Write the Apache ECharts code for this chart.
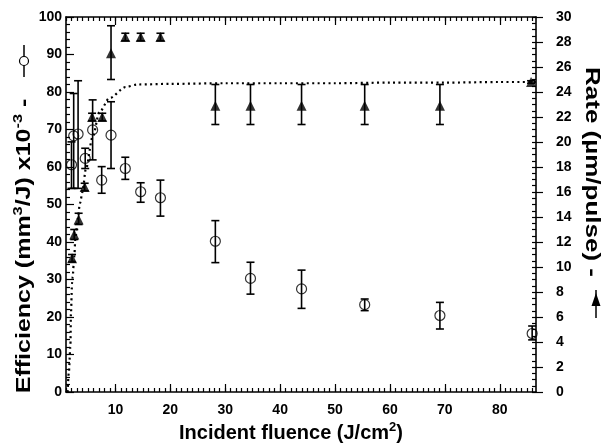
<!DOCTYPE html>
<html>
<head>
<meta charset="utf-8">
<script src="https://cdn.jsdelivr.net/npm/echarts@6/dist/echarts.min.js"></script>
<style>html,body{margin:0;padding:0;background:#fff}#c{width:602px;height:443px}</style>
</head>
<body>
<div id="c"></div>
<script>
// ---- data ----
const X_MIN = 1, X_MAX = 86.6;
const xMajorTicks = [10, 20, 30, 40, 50, 60, 70, 80];

// Efficiency (left axis, open circles)
const effX  = [2.0, 2.4, 3.2, 4.5, 5.85, 7.5, 9.2, 11.8, 14.6, 18.2, 28.2, 34.6, 43.9, 55.4, 69.1, 85.9];
const effY  = [60.6, 68.3, 68.8, 62.3, 69.9, 56.5, 68.5, 59.6, 53.4, 51.8, 40.2, 30.3, 27.5, 23.3, 20.4, 15.6];
const effLo = [54.3, 54.3, 54.3, 59.6, 61.9, 53.0, 59.6, 56.7, 50.6, 46.9, 34.5, 26.1, 22.3, 21.7, 16.8, 13.9];
const effHi = [66.7, 79.6, 83.0, 65.0, 77.9, 60.1, 77.4, 62.6, 55.8, 56.5, 45.7, 34.6, 32.5, 24.8, 23.9, 17.6];

// Rate (right axis, filled triangles)
const rateX  = [2.1, 2.5, 3.3, 4.4, 5.75, 7.6, 9.2, 11.8, 14.6, 18.2, 28.2, 34.6, 43.9, 55.4, 69.1, 85.7];
const rateY  = [10.7, 12.6, 13.8, 16.4, 22.0, 22.0, 27.1, 28.4, 28.4, 28.4, 22.9, 22.9, 22.9, 22.9, 22.9, 24.8];
const rateLo = [10.4, 12.2, 13.4, 16.1, 21.7, 21.7, 25.0, 28.1, 28.1, 28.1, 21.4, 21.4, 21.4, 21.4, 21.4, 24.7];
const rateHi = [11.0, 13.0, 14.3, 16.7, 22.3, 22.3, 29.3, 28.7, 28.7, 28.7, 24.6, 24.6, 24.6, 24.6, 24.6, 24.9];

// Dotted fit curve (right axis)
const fitX = [1.3, 1.5, 1.8, 1.9, 2.1, 2.2, 2.5, 2.7, 3.1, 3.55, 4.0, 4.6, 5.85, 7.1, 8.9, 11.9, 14, 20, 30, 40, 50, 60, 70, 80, 86.6];
const fitY = [0, 1.5, 3.6, 6.3, 8.7, 9.2, 10.8, 12.2, 13.8, 15.1, 16.0, 17.8, 20.4, 22.4, 23.5, 24.4, 24.6, 24.65, 24.7, 24.7, 24.7, 24.75, 24.75, 24.8, 24.8];

// ---- chart ----
const xMinorTicks = [];
for (let v = 1; v <= 86; v++) xMinorTicks.push(v);

const FONT = 'Liberation Sans, Arial, Helvetica, sans-serif';
const black = '#000';
const lbl = { color: black, fontFamily: FONT, fontWeight: 'bold', fontSize: 14 };

function errRender(params, api) {
  const x = api.value(0), lo = api.value(1), hi = api.value(2);
  const p1 = api.coord([x, hi]), p2 = api.coord([x, lo]);
  const w = 4;
  const st = { stroke: black, lineWidth: 1.6 };
  return { type: 'group', children: [
    { type: 'line', shape: { x1: p1[0], y1: p1[1], x2: p2[0], y2: p2[1] }, style: st },
    { type: 'line', shape: { x1: p1[0] - w, y1: p1[1], x2: p1[0] + w, y2: p1[1] }, style: st },
    { type: 'line', shape: { x1: p2[0] - w, y1: p2[1], x2: p2[0] + w, y2: p2[1] }, style: st }
  ]};
}

function xAxisDef(pos, ticks, len, showLine, showLabel) {
  return {
    type: 'value', position: pos, min: X_MIN, max: X_MAX,
    axisLine: { show: showLine, onZero: false, lineStyle: { color: black, width: 1.6 } },
    axisTick: { show: true, inside: true, length: len, customValues: ticks, lineStyle: { color: black, width: 1.2 } },
    axisLabel: Object.assign({ show: showLabel, customValues: ticks, margin: 11 }, lbl),
    splitLine: { show: false }
  };
}

const chart = echarts.init(document.getElementById('c'), null, { renderer: 'canvas' });
chart.setOption({
  animation: false,
  backgroundColor: '#fff',
  grid: { left: 66, right: 66, top: 17, bottom: 51, containLabel: false },
  xAxis: [
    xAxisDef('bottom', xMajorTicks, 8, true, true),
    xAxisDef('bottom', xMinorTicks, 4, false, false),
    xAxisDef('top', xMajorTicks, 8, true, false),
    xAxisDef('top', xMinorTicks, 4, false, false)
  ],
  yAxis: [
    {
      type: 'value', position: 'left', min: 0, max: 100, interval: 10,
      axisLine: { show: true, onZero: false, lineStyle: { color: black, width: 1.6 } },
      axisTick: { show: true, inside: true, length: 8, lineStyle: { color: black, width: 1.2 } },
      minorTick: { show: true, splitNumber: 5, length: 4, lineStyle: { color: black, width: 1.2 } },
      axisLabel: Object.assign({ margin: 4 }, lbl),
      splitLine: { show: false }
    },
    {
      type: 'value', position: 'right', min: 0, max: 30, interval: 2,
      axisLine: { show: true, onZero: false, lineStyle: { color: black, width: 1.6 } },
      axisTick: { show: true, inside: false, length: 7, lineStyle: { color: black, width: 1.2 } },
      axisLabel: Object.assign({ margin: 20 }, lbl),
      splitLine: { show: false }
    },
    {
      type: 'value', position: 'right', min: 0, max: 30, interval: 0.5,
      axisLine: { show: false },
      axisTick: { show: true, inside: true, length: 4, lineStyle: { color: black, width: 1.2 } },
      axisLabel: { show: false },
      splitLine: { show: false }
    }
  ],
  series: [
    {
      type: 'line', xAxisIndex: 0, yAxisIndex: 1, showSymbol: false, smooth: 0.3, smoothMonotone: 'x',
      data: fitX.map((x, i) => [x, fitY[i]]),
      lineStyle: { color: black, width: 2.2, type: [2, 3.4] }, z: 1
    },
    {
      type: 'custom', xAxisIndex: 0, yAxisIndex: 0, renderItem: errRender,
      encode: { x: 0, y: [1, 2] },
      data: effX.map((x, i) => [x, effLo[i], effHi[i]]), z: 2
    },
    {
      type: 'custom', xAxisIndex: 0, yAxisIndex: 1, renderItem: errRender,
      encode: { x: 0, y: [1, 2] },
      data: rateX.map((x, i) => [x, rateLo[i], rateHi[i]]), z: 2
    },
    {
      type: 'scatter', xAxisIndex: 0, yAxisIndex: 0, symbol: 'circle', symbolSize: 10,
      data: effX.map((x, i) => [x, effY[i]]),
      itemStyle: { color: 'rgba(0,0,0,0)', borderColor: black, borderWidth: 1.2 }, z: 3
    },
    {
      type: 'scatter', xAxisIndex: 0, yAxisIndex: 1, symbol: 'triangle', symbolSize: [10, 10],
      data: rateX.map((x, i) => [x, rateY[i]]),
      itemStyle: { color: black }, z: 3
    }
  ],
  graphic: [
    {
      type: 'text', x: 23, y: 246, rotation: Math.PI / 2, scaleX: 1.25,
      style: {
        text: '{a|Efficiency (mm}{s|3}{a|/J) x10}{s|-3}{a| -}',
        align: 'center', verticalAlign: 'middle',
        rich: {
          a: { fontFamily: FONT, fontWeight: 'bold', fontSize: 20, fill: black, lineHeight: 23, verticalAlign: 'bottom' },
          s: { fontFamily: FONT, fontWeight: 'bold', fontSize: 13, fill: black, lineHeight: 23, verticalAlign: 'top' }
        }
      }
    },
    { type: 'line', shape: { x1: 24, y1: 45, x2: 24, y2: 77 }, style: { stroke: black, lineWidth: 1.5 } },
    { type: 'circle', shape: { cx: 24, cy: 61, r: 4.5 }, style: { stroke: black, fill: '#fff', lineWidth: 1.2 } },
    {
      type: 'text', x: 592, y: 172, rotation: -Math.PI / 2, scaleX: 1.3,
      style: {
        text: 'Rate (\u00b5m/pulse) -',
        align: 'center', verticalAlign: 'middle',
        fontFamily: FONT, fontWeight: 'bold', fontSize: 20, fill: black
      }
    },
    { type: 'line', shape: { x1: 596, y1: 290, x2: 596, y2: 318 }, style: { stroke: black, lineWidth: 1.5 } },
    { type: 'polygon', shape: { points: [[596, 293], [591.5, 306], [600.5, 306]] }, style: { fill: black } },
    {
      type: 'text', x: 291, y: 432,
      style: {
        text: '{a|Incident fluence (J/cm}{s|2}{a|)}',
        align: 'center', verticalAlign: 'middle',
        rich: {
          a: { fontFamily: FONT, fontWeight: 'bold', fontSize: 20, fill: black, lineHeight: 23, verticalAlign: 'bottom' },
          s: { fontFamily: FONT, fontWeight: 'bold', fontSize: 13, fill: black, lineHeight: 23, verticalAlign: 'top' }
        }
      }
    }
  ]
});
</script>
</body>
</html>
